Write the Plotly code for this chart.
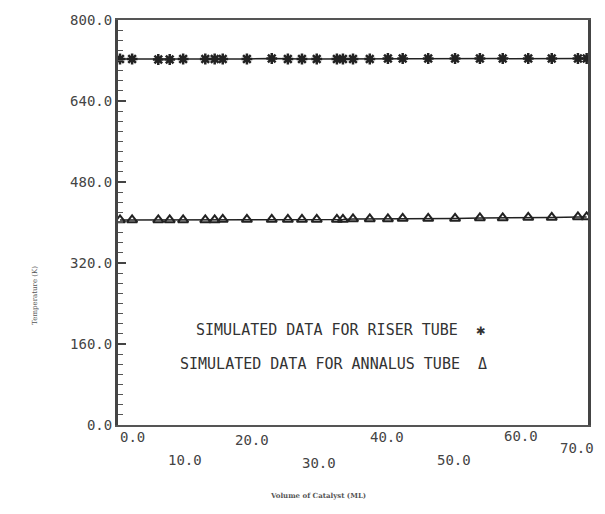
import plotly.graph_objects as go

# Data
volume = [0.3, 2.1, 6.0, 7.7, 9.7, 13.0, 14.4, 15.6, 19.2, 22.9, 25.3, 27.4, 29.6, 32.6,
          33.5, 35.0, 37.5, 40.2, 42.4, 46.2, 50.2, 53.9, 57.3, 61.1, 64.6, 68.5, 69.8]
riser_temp = [723, 723, 722, 722, 723, 723, 723, 723, 723, 724, 723, 723, 723, 723,
              723, 723, 723, 724, 724, 724, 724, 724, 724, 724, 724, 724, 724]
annulus_temp = [405, 405, 405, 405, 405, 405, 405, 406, 406, 406, 406, 406, 406, 406,
                406, 407, 407, 407, 408, 408, 408, 409, 409, 410, 410, 411, 411]

y_ticks = [0, 160, 320, 480, 640, 800]
y_labels = ["0.0", "160.0", "320.0", "480.0", "640.0", "800.0"]
x_ticks = [0, 10, 20, 30, 40, 50, 60, 70]
x_labels = ["0.0", "10.0", "20.0", "30.0", "40.0", "50.0", "60.0", "70.0"]
x_label_offsets = [-12, -35, -15, -38, -12, -35, -11, -23]
x_label_hshift = [14, 0, 0, 0, 0, 0, 0, -11]

legend_lines = ["SIMULATED DATA FOR RISER TUBE  \u2731", "SIMULATED DATA FOR ANNALUS TUBE  \u0394"]

ink = "#222222"
font_mono = "DejaVu Sans Mono"

fig = go.Figure()
fig.add_trace(go.Scatter(
    x=volume, y=riser_temp, mode="lines+markers",
    line=dict(color=ink, width=1.5),
    marker=dict(symbol="asterisk-open", size=9, color=ink, line=dict(color=ink, width=2.5)),
    showlegend=False))
fig.add_trace(go.Scatter(
    x=volume, y=annulus_temp, mode="lines+markers",
    line=dict(color=ink, width=1.5),
    marker=dict(symbol="triangle-up-open", size=9, color=ink, line=dict(color=ink, width=2)),
    showlegend=False))

annotations = []
for v, lab, off, hs in zip(x_ticks, x_labels, x_label_offsets, x_label_hshift):
    annotations.append(dict(x=v, y=0, xref="x", yref="paper", text=lab, showarrow=False,
                            yanchor="middle", yshift=off, xshift=hs,
                            font=dict(family=font_mono, size=14, color="#444444")))
annotations.append(dict(x=0.474, y=0.235, xref="paper", yref="paper", text=legend_lines[0],
                        showarrow=False, xanchor="center", yanchor="middle",
                        font=dict(family=font_mono, size=15, color="#333333")))
annotations.append(dict(x=0.458, y=0.151, xref="paper", yref="paper", text=legend_lines[1],
                        showarrow=False, xanchor="center", yanchor="middle",
                        font=dict(family=font_mono, size=15, color="#333333")))
annotations.append(dict(x=-0.177, y=0.321, xref="paper", yref="paper", text="Temperature (K)",
                        showarrow=False, textangle=-90, xanchor="center", yanchor="middle",
                        font=dict(family="DejaVu Serif", size=7, color="#555555")))
annotations.append(dict(x=0.426, y=-0.173, xref="paper", yref="paper",
                        text="<b>Volume of Catalyst (ML)</b>", showarrow=False,
                        xanchor="center", yanchor="middle",
                        font=dict(family="DejaVu Serif", size=7, color="#555555")))

fig.update_layout(
    width=605, height=514,
    margin=dict(l=110, r=25, t=12, b=97),
    paper_bgcolor="white", plot_bgcolor="white",
    annotations=annotations,
)
fig.update_xaxes(range=[0, 70], showgrid=False, zeroline=False, automargin=False,
                 showline=True, linecolor="#555555", linewidth=2, mirror=True,
                 showticklabels=False, ticks="")
fig.update_yaxes(range=[0, 800], showgrid=False, zeroline=False, automargin=False,
                 showline=True, linecolor="#444444", linewidth=3, mirror=True,
                 tickvals=y_ticks, ticktext=y_labels, ticks="inside", ticklen=8,
                 tickwidth=1.5, tickcolor="#444444",
                 minor=dict(dtick=20, ticks="inside", ticklen=5, tickcolor="#555555", tickwidth=1.2),
                 tickfont=dict(family=font_mono, size=14, color="#444444"))

fig.write_html("out.html")
